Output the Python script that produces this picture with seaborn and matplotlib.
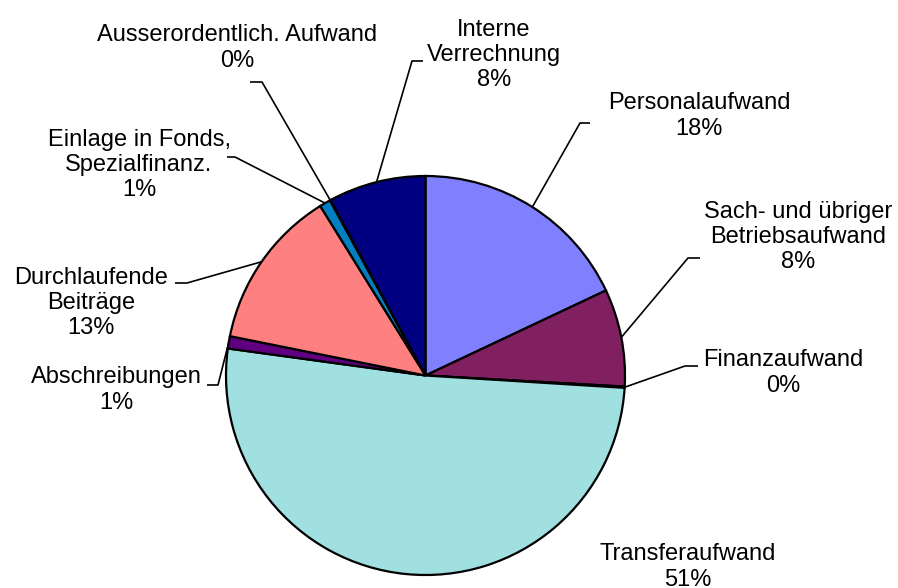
import numpy as np
import matplotlib
matplotlib.use("Agg")
import matplotlib.pyplot as plt
import seaborn as sns

sns.set_theme(style="white")
plt.rcParams["font.family"] = ["Liberation Sans", "DejaVu Sans"]

# ---- data ---------------------------------------------------------------
categories = ["Personalaufwand", "Sach- und übriger\nBetriebsaufwand", "Finanzaufwand",
              "Transferaufwand", "Abschreibungen", "Durchlaufende\nBeiträge",
              "Einlage in Fonds,\nSpezialfinanz.", "Ausserordentlich. Aufwand",
              "Interne\nVerrechnung"]
shares = [18.0, 7.9, 0.1, 51.2, 1.0, 13.0, 0.9, 0.05, 7.9]
colors = ["#8080FF", "#802060", "#FFFFC0", "#A0E0E0", "#600080",
          "#FF8080", "#0080C0", "#C0C0FF", "#000080"]

# ---- layout (pixel coords of the 898x588 canvas) -----------------------
W, H = 898, 588
center_px = (425.5, 375.5)
radius_px = 199.5
label_pos = [(699, 116), (798, 237), (783, 373), (688, 567), (116, 390),
             (91, 303), (139, 165), (237, 48), (494, 55)]
# leader: (elbow x near pie, elbow x near text, y) ; None = no leader
leaders = [(580, 590, 123), (688, 700, 258), (685, 698, 366), None, (218, 207, 385),
           (187, 175, 283), (235, 227, 157), (262, 250, 82), (412, 423, 61)]

fig = plt.figure(figsize=(W / 100, H / 100), dpi=100)
ax = fig.add_axes([0, 0, 1, 1])

cx, cy = center_px[0], H - center_px[1]
wedges, _ = ax.pie(shares, colors=colors, startangle=90, counterclock=False,
                   center=(cx, cy), radius=radius_px,
                   wedgeprops={"edgecolor": "black", "linewidth": 1.6})

total = sum(shares)
for w, name, val, (lx, ly), ld in zip(wedges, categories, shares, label_pos, leaders):
    ax.text(lx, H - ly, f"{name}\n{val / total * 100:.0f}%", ha="center", va="center",
            fontsize=17, linespacing=1.18, color="black")
    if ld is None:
        continue
    mid = np.deg2rad((w.theta1 + w.theta2) / 2)
    ex, ey = cx + radius_px * np.cos(mid), cy + radius_px * np.sin(mid)
    ax.plot([ex, ld[0], ld[1]], [ey, H - ld[2], H - ld[2]], color="black", lw=1.2,
            solid_capstyle="butt")

ax.set_xlim(0, W)
ax.set_ylim(0, H)
ax.set_aspect("equal")
ax.axis("off")

fig.savefig("out.png", dpi=100, facecolor="white")
